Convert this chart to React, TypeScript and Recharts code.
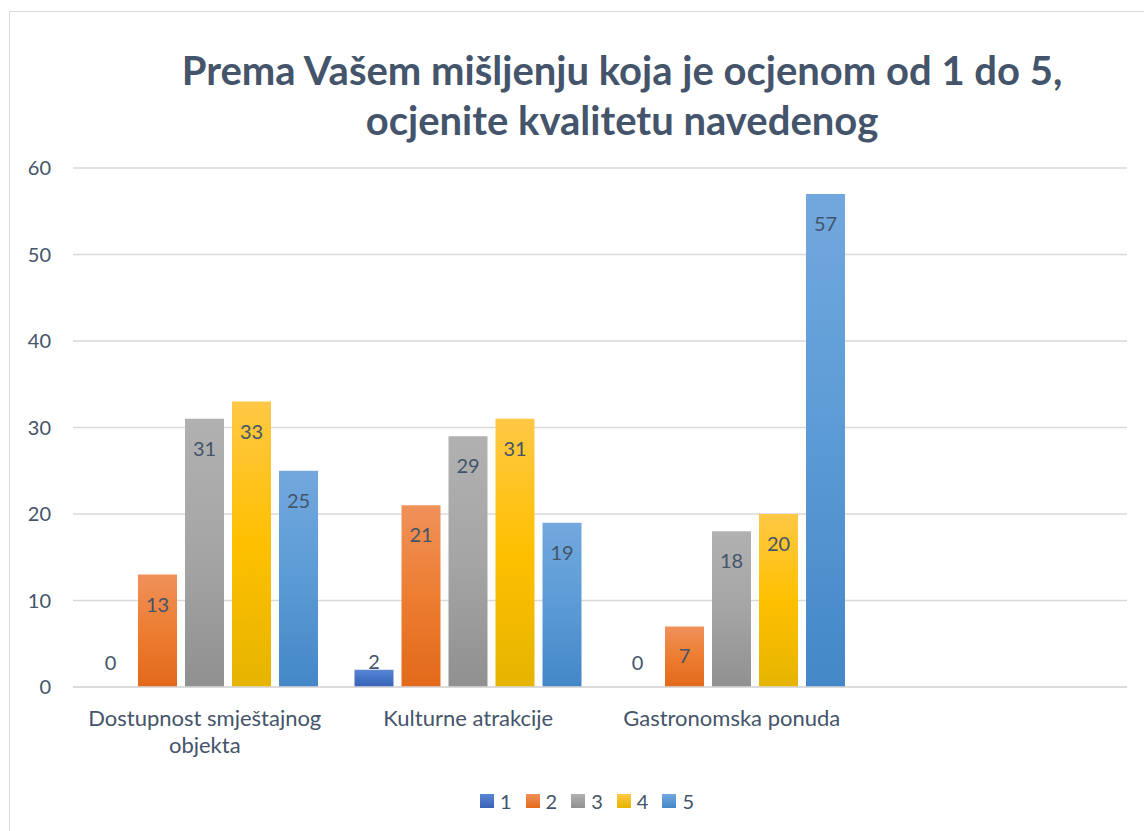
import React from "react";
import { BarChart, Bar, XAxis, YAxis, CartesianGrid, LabelList } from "recharts";

const categories = ["Dostupnost smještajnog objekta", "Kulturne atrakcije", "Gastronomska ponuda", ""];
const series1 = [0, 2, 0, null];
const series2 = [13, 21, 7, null];
const series3 = [31, 29, 18, null];
const series4 = [33, 31, 20, null];
const series5 = [25, 19, 57, null];
const seriesNames = ["1", "2", "3", "4", "5"];
const yTicks = [0, 10, 20, 30, 40, 50, 60];
const title1 = "Prema Vašem mišljenju koja je ocjenom od 1 do 5,";
const title2 = "ocjenite kvalitetu navedenog";

const gradients = [
  { id: "g1", top: "#5A86D4", bottom: "#3A62B6", legend: "#4472C4" },
  { id: "g2", top: "#F0915B", bottom: "#E2691A", legend: "#ED7D31" },
  { id: "g3", top: "#B1B1B1", bottom: "#909090", legend: "#A5A5A5" },
  { id: "g4", top: "#FFC845", bottom: "#E5B400", legend: "#FFC000" },
  { id: "g5", top: "#72A8DE", bottom: "#4487C7", legend: "#5B9BD5" },
];

const data = categories.map((c, i) => ({
  name: c,
  s1: series1[i],
  s2: series2[i],
  s3: series3[i],
  s4: series4[i],
  s5: series5[i],
}));

const FONT = "Lato, 'Open Sans', sans-serif";
const TEXT_COLOR = "#44546A";
const MAX_LINE_CHARS = 24;

const wrapWords = (s: string): string[] => {
  const words = s.split(" ");
  const lines: string[] = [];
  let cur = "";
  words.forEach((w) => {
    const next = cur ? cur + " " + w : w;
    if (next.length > MAX_LINE_CHARS && cur) {
      lines.push(cur);
      cur = w;
    } else cur = next;
  });
  if (cur) lines.push(cur);
  return lines;
};

const renderLabel = (props: any) => {
  const { x, y, width, height, value } = props;
  if (value === null || value === undefined) return null;
  const cx = Number(x) + Number(width) / 2;
  let cy: number;
  if (Number(value) === 0) cy = Number(y) + Number(height) - 25;
  else if (Number(height) < 35) cy = Number(y) - 9;
  else cy = Number(y) + 29;
  return (
    <text x={cx} y={cy} textAnchor="middle" dominantBaseline="central" fill={TEXT_COLOR} fontSize={20} fontFamily={FONT}>
      {value}
    </text>
  );
};

const XTick = (props: any) => {
  const { x, y, payload } = props;
  if (!payload || !payload.value) return null;
  const lines = wrapWords(String(payload.value));
  return (
    <text x={x} y={y} textAnchor="middle" fill={TEXT_COLOR} fontSize={22} fontFamily={FONT}>
      {lines.map((l, i) => (
        <tspan key={i} x={x} dy={i === 0 ? "0.71em" : 27}>
          {l}
        </tspan>
      ))}
    </text>
  );
};

export default function App() {
  const keys = ["s1", "s2", "s3", "s4", "s5"];
  return (
    <div style={{ position: "absolute", left: 0, top: 0, width: 1144, height: 831, overflow: "hidden", background: "#fff" }}>
      <div
        style={{
          position: "absolute",
          left: 9,
          top: 11,
          width: 1300,
          height: 1000,
          border: "1.5px solid #D9D9D9",
          boxSizing: "border-box",
        }}
      />
      <svg style={{ position: "absolute", left: 0, top: 0 }} width={1144} height={160}>
        <text x={622} y={70} textAnchor="middle" dominantBaseline="central" fontFamily={FONT} fontWeight={700} fontSize={40} fill={TEXT_COLOR}>
          {title1}
        </text>
        <text x={622} y={120} textAnchor="middle" dominantBaseline="central" fontFamily={FONT} fontWeight={700} fontSize={40} fill={TEXT_COLOR}>
          {title2}
        </text>
      </svg>
      <div style={{ position: "absolute", left: 0, top: 0 }}>
        <BarChart
          width={1144}
          height={831}
          data={data}
          margin={{ top: 168, right: 17, bottom: 84, left: 13 }}
          barCategoryGap={18}
          barGap={8}
        >
          <defs>
            {gradients.map((g) => (
              <linearGradient key={g.id} id={g.id} x1="0" y1="0" x2="0" y2="1">
                <stop offset="0%" stopColor={g.top} />
                <stop offset="50%" stopColor={g.legend} />
                <stop offset="100%" stopColor={g.bottom} />
              </linearGradient>
            ))}
          </defs>
          <CartesianGrid vertical={false} stroke="#D9D9D9" strokeWidth={1.5} />
          <XAxis
            dataKey="name"
            axisLine={{ stroke: "#D9D9D9", strokeWidth: 1.5 }}
            tickLine={false}
            tick={<XTick />}
            tickSize={0}
            tickMargin={23}
            interval={0}
            height={60}
          />
          <YAxis
            ticks={yTicks}
            domain={[0, 60]}
            axisLine={false}
            tickLine={false}
            tickSize={0}
            tickMargin={22}
            width={60}
            tick={{ fill: TEXT_COLOR, fontSize: 20, fontFamily: FONT }}
          />
          {keys.map((k, i) => (
            <Bar
              key={k}
              dataKey={k}
              name={seriesNames[i]}
              fill={`url(#${gradients[i].id})`}
              minPointSize={0.01}
              isAnimationActive={false}
            >
              <LabelList dataKey={k} content={renderLabel} />
            </Bar>
          ))}
        </BarChart>
      </div>
      <div
        style={{
          position: "absolute",
          left: 0,
          top: 787,
          width: 1174,
          height: 28,
          display: "flex",
          justifyContent: "center",
          alignItems: "center",
          fontFamily: FONT,
          fontSize: 20,
          color: TEXT_COLOR,
        }}
      >
        {seriesNames.map((n, i) => (
          <div key={n} style={{ display: "flex", alignItems: "center", marginRight: i < seriesNames.length - 1 ? 14 : 0 }}>
            <div
              style={{
                width: 14,
                height: 14,
                background: `linear-gradient(${gradients[i].top}, ${gradients[i].bottom})`,
                marginRight: 6,
              }}
            />
            <span>{n}</span>
          </div>
        ))}
      </div>
    </div>
  );
}
